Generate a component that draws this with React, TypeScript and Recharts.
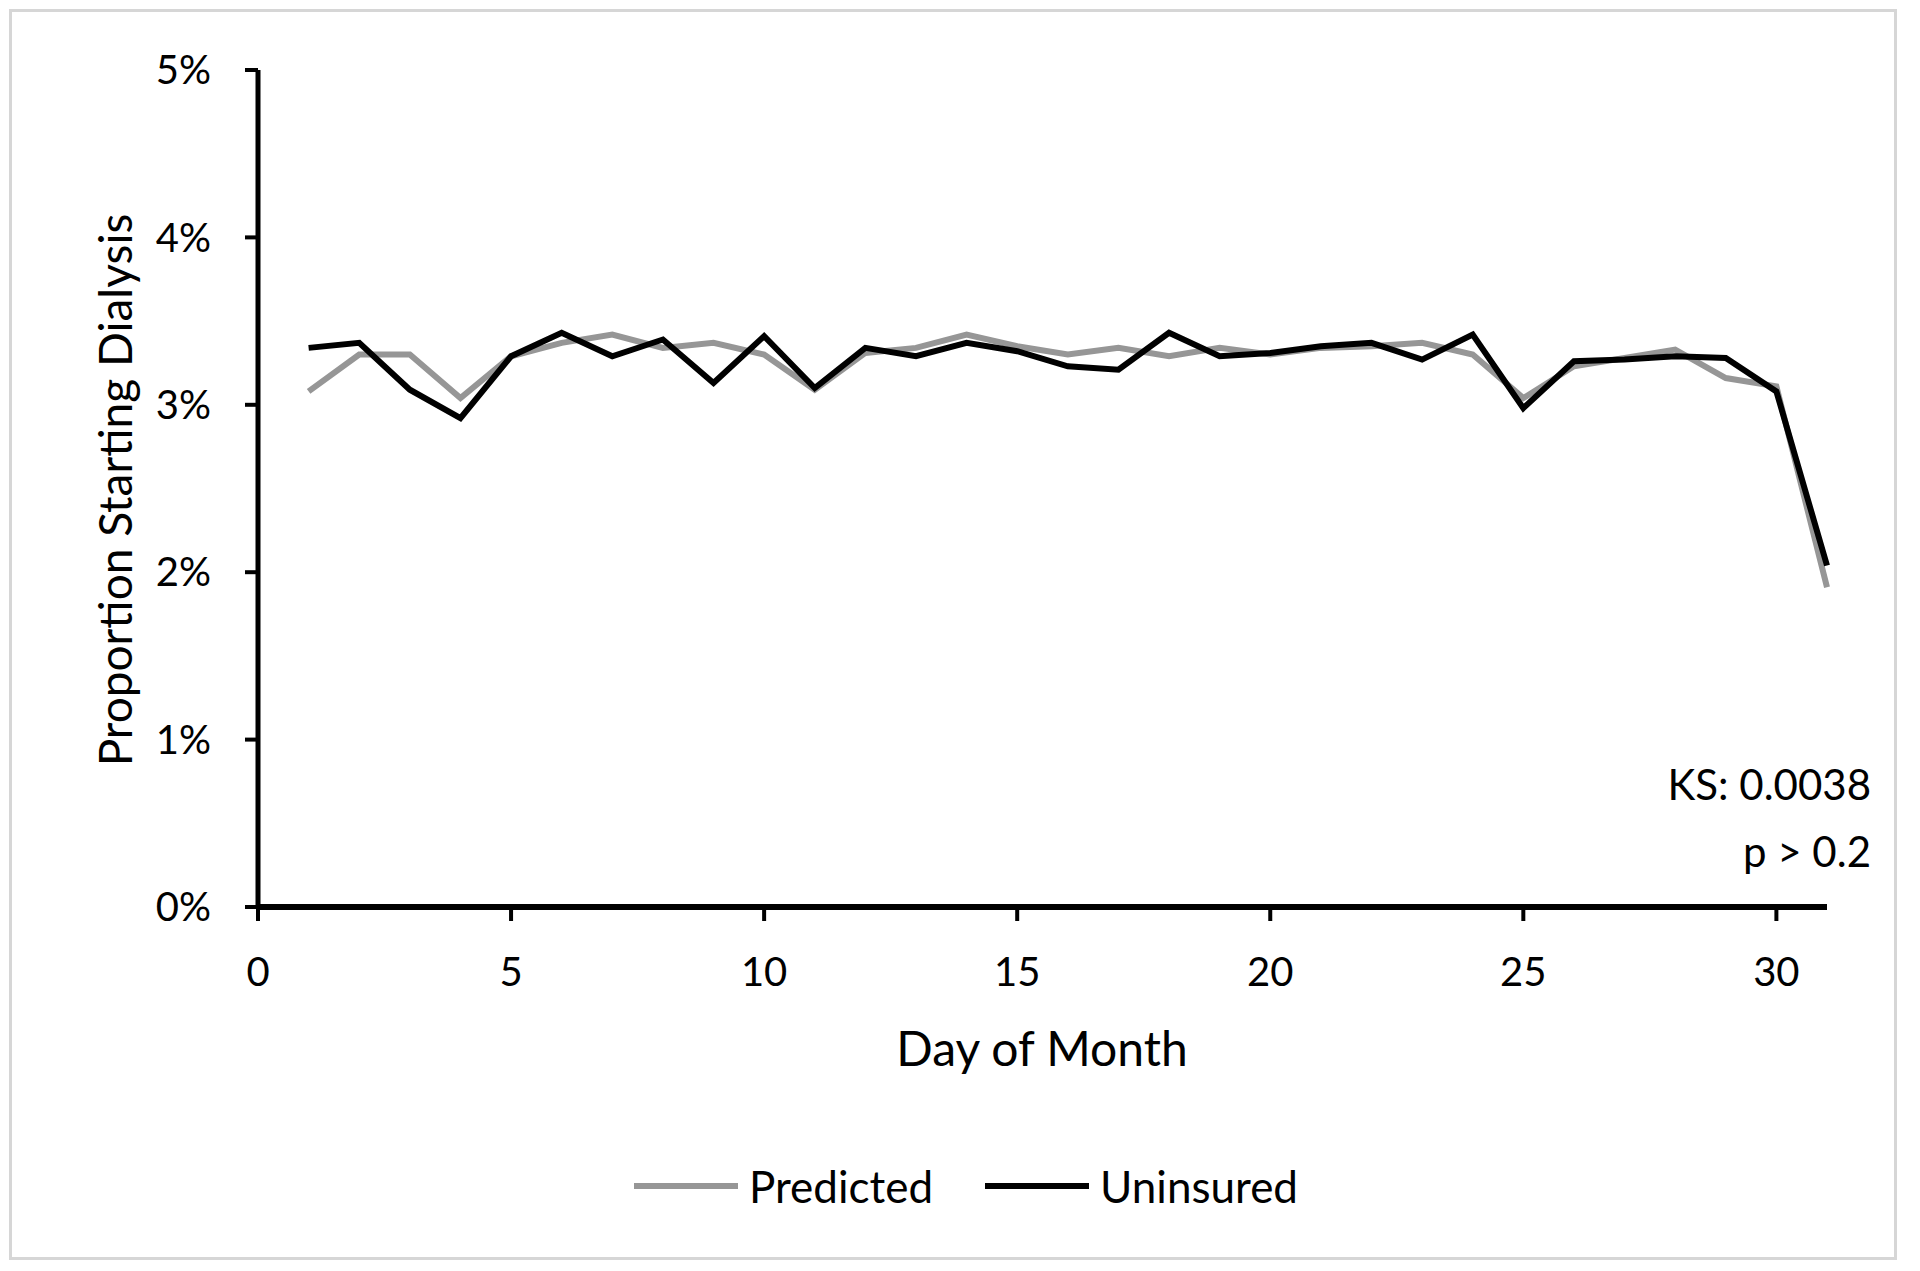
import { LineChart, Line, XAxis, YAxis, Legend } from "recharts";

const days = [1, 2, 3, 4, 5, 6, 7, 8, 9, 10, 11, 12, 13, 14, 15, 16, 17, 18, 19, 20, 21, 22, 23, 24, 25, 26, 27, 28, 29, 30, 31];
const predicted = [3.08, 3.3, 3.3, 3.04, 3.29, 3.37, 3.42, 3.34, 3.37, 3.3, 3.09, 3.31, 3.34, 3.42, 3.35, 3.3, 3.34, 3.29, 3.34, 3.3, 3.34, 3.35, 3.37, 3.3, 3.04, 3.23, 3.28, 3.33, 3.16, 3.11, 1.91];
const uninsured = [3.34, 3.37, 3.09, 2.92, 3.29, 3.43, 3.29, 3.39, 3.13, 3.41, 3.1, 3.34, 3.29, 3.37, 3.32, 3.23, 3.21, 3.43, 3.29, 3.31, 3.35, 3.37, 3.27, 3.42, 2.98, 3.26, 3.27, 3.29, 3.28, 3.08, 2.04];
const xTicks = [0, 5, 10, 15, 20, 25, 30];
const yTicks = [0, 1, 2, 3, 4, 5];
const statLines = ["KS: 0.0038", "p > 0.2"];

const FONT = "Lato, 'Open Sans', sans-serif";
const W = 1882;
const H = 1245;

const data = days.map((d, i) => ({ day: d, predicted: predicted[i], uninsured: uninsured[i] }));

function XTick(props: any) {
  const { x, y, payload } = props;
  return (
    <text x={x} y={y + 50} textAnchor="middle" dominantBaseline="central" fontSize={40} fill="#000" fontFamily={FONT}>
      {payload.value}
    </text>
  );
}

function LegendContent(props: any) {
  const items = props.payload || [];
  return (
    <div style={{ display: "flex", justifyContent: "center", alignItems: "center", paddingLeft: 26, fontFamily: FONT, fontSize: 44, color: "#000" }}>
      {items.map((it: any, i: number) => (
        <div key={it.value} style={{ display: "flex", alignItems: "center", marginLeft: i ? 52 : 0 }}>
          <svg width={104} height={10} style={{ marginRight: 11 }}>
            <line x1={0} y1={5} x2={104} y2={5} stroke={it.color} strokeWidth={6} />
          </svg>
          <span>{it.value}</span>
        </div>
      ))}
    </div>
  );
}

export default function App() {
  return (
    <div style={{ position: "relative", width: 1888, height: 1251, border: "3px solid #d6d6d6", boxSizing: "border-box", marginLeft: 1, marginTop: 1 }}>
      <LineChart width={W} height={H} data={data} margin={{ top: 58, right: 67, bottom: 349, left: 245 }}>
        <XAxis
          dataKey="day"
          type="number"
          domain={[0, 31]}
          ticks={xTicks}
          height={1}
          tickSize={14}
          tickMargin={0}
          axisLine={{ stroke: "#000", strokeWidth: 6 }}
          tickLine={{ stroke: "#000", strokeWidth: 4 }}
          tick={<XTick />}
        />
        <YAxis
          type="number"
          domain={[0, 5]}
          ticks={yTicks}
          width={1}
          tickSize={13}
          tickMargin={34}
          tickFormatter={(v: number) => `${v}%`}
          axisLine={{ stroke: "#000", strokeWidth: 5 }}
          tickLine={{ stroke: "#000", strokeWidth: 4 }}
          tick={{ fontSize: 40, fill: "#000", fontFamily: FONT }}
        />
        <Legend
          layout="horizontal"
          verticalAlign="middle"
          align="center"
          wrapperStyle={{ top: 1148, left: 0, width: W }}
          content={<LegendContent />}
        />
        <Line dataKey="predicted" name="Predicted" stroke="#969696" strokeWidth={6} dot={false} isAnimationActive={false} />
        <Line dataKey="uninsured" name="Uninsured" stroke="#000" strokeWidth={6} dot={false} isAnimationActive={false} />
        <text x={1030} y={1035} textAnchor="middle" dominantBaseline="central" fontSize={48} fontFamily={FONT} fill="#000">
          Day of Month
        </text>
        <text
          x={102}
          y={478}
          textAnchor="middle"
          dominantBaseline="central"
          fontSize={46}
          fontFamily={FONT}
          fill="#000"
          transform="rotate(-90 102 478)"
        >
          Proportion Starting Dialysis
        </text>
        {statLines.map((s, i) => (
          <text key={s} x={1859} y={772 + i * 67} textAnchor="end" dominantBaseline="central" fontSize={42} fontFamily={FONT} fill="#000">
            {s}
          </text>
        ))}
      </LineChart>
    </div>
  );
}
